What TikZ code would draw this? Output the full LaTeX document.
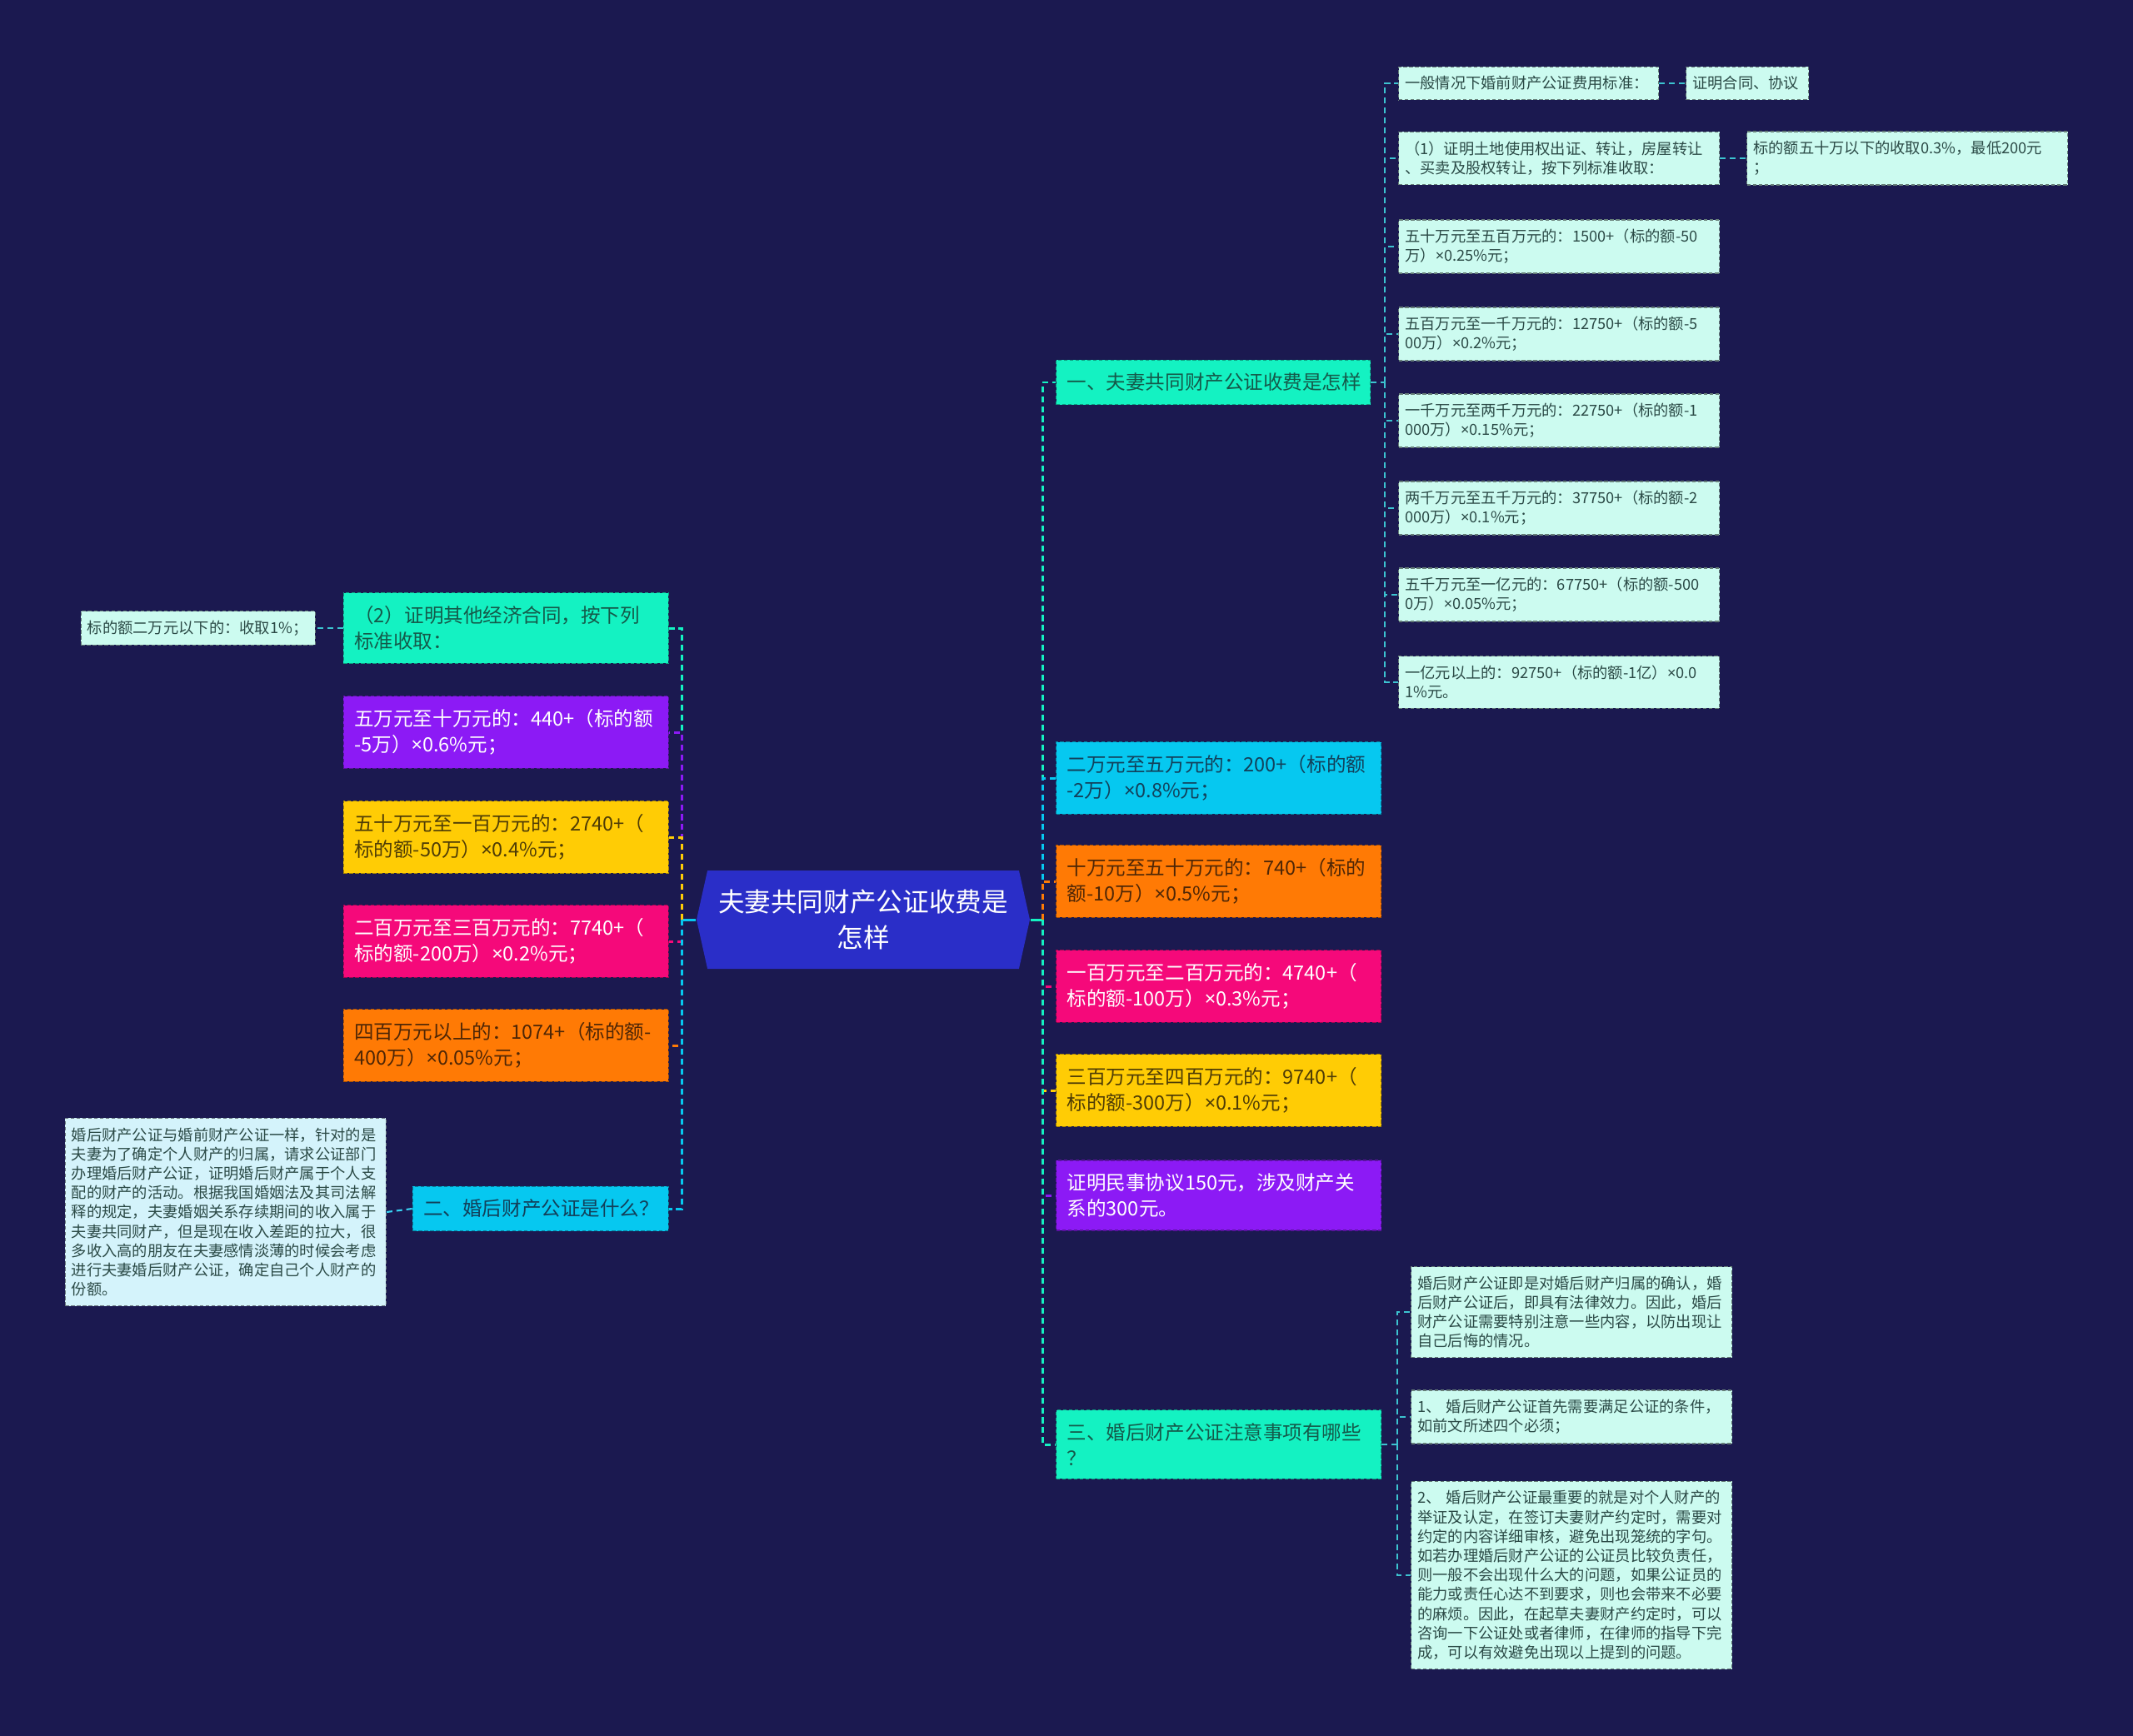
\documentclass[tikz,border=0pt]{standalone}
\usepackage{fontspec}
\setmainfont{Noto Sans CJK SC}
\newfontfamily\latinfont{Noto Sans}
\newcommand\mul{{\latinfont ×}}
\usetikzlibrary{shapes.symbols}
\definecolor{bgnavy}{HTML}{1B1950}
\definecolor{hubblue}{HTML}{2A2EC8}
\definecolor{tealbox}{HTML}{14F2C2}
\definecolor{skybox}{HTML}{06C8F0}
\definecolor{purplebox}{HTML}{8C1AF5}
\definecolor{goldbox}{HTML}{FFCC05}
\definecolor{rosebox}{HTML}{F5097A}
\definecolor{orangebox}{HTML}{FF7A05}
\definecolor{tealtext}{HTML}{145A4A}
\definecolor{skytext}{HTML}{12405A}
\definecolor{goldtext}{HTML}{4E3C06}
\definecolor{orangetext}{HTML}{4E2606}
\definecolor{leafmint}{HTML}{CCFBF0}
\definecolor{leafsky}{HTML}{D4F3FB}
\definecolor{leaftext}{HTML}{2B4A46}
\definecolor{twigteal}{HTML}{3CC3D0}

\begin{document}
\begin{tikzpicture}[
  hub/.style={signal, signal to=west and east, signal pointer angle=155,
    fill=hubblue, text=white, minimum width=4cm, minimum height=1.18cm,
    inner sep=0pt, align=center, font=\fontsize{9}{12}\selectfont},
  topic/.style 2 args={fill=#1, draw=#1!65!black, text=#2, line width=0.4pt,
    dash pattern=on 1.2pt off 0.8pt, text width=3.64cm, inner xsep=0.13cm,
    inner ysep=4.5pt, align=left, font=\fontsize{6.7}{8.8}\selectfont},
  leaf/.style={fill=#1, draw=#1!50!black, text=leaftext, line width=0.4pt,
    dash pattern=on 1.2pt off 0.8pt, text width=3.7cm, inner xsep=0.075cm,
    inner ysep=3.2pt, align=left, font=\fontsize{5.2}{6.6}\selectfont},
  link/.style={line width=0.85pt, dash pattern=on 2pt off 1.4pt},
  twig/.style={twigteal, line width=0.6pt, dash pattern=on 2pt off 1.4pt}
]

% Background
\fill[bgnavy] (0,0) rectangle (25.6,-20.84);
\useasboundingbox (0,0) rectangle (25.6,-20.84);

% Centre
\node[hub] (ctr) at (10.36,-11.04) {夫妻共同财产公证收费是\\怎样};
\coordinate (lhub) at (8.18,-11.04);
\coordinate (rhub) at (12.51,-11.04);

% Right branches
\node[topic={tealbox}{tealtext}, text width=3.51cm, anchor=west] (r1) at (12.67,-4.59) {一、夫妻共同财产公证收费是怎样};
\node[topic={skybox}{skytext}, anchor=west] (r2) at (12.67,-9.34) {二万元至五万元的：200+（标的额\\-2万）\mul0.8\%元；};
\node[topic={orangebox}{orangetext}, anchor=west] (r3) at (12.67,-10.58) {十万元至五十万元的：740+（标的\\额-10万）\mul0.5\%元；};
\node[topic={rosebox}{white}, anchor=west] (r4) at (12.67,-11.84) {一百万元至二百万元的：4740+（\\标的额-100万）\mul0.3\%元；};
\node[topic={goldbox}{goldtext}, anchor=west] (r5) at (12.67,-13.09) {三百万元至四百万元的：9740+（\\标的额-300万）\mul0.1\%元；};
\node[topic={purplebox}{white}, anchor=west] (r6) at (12.67,-14.35) {证明民事协议150元，涉及财产关\\系的300元。};
\node[topic={tealbox}{tealtext}, anchor=west] (r7) at (12.67,-17.34) {三、婚后财产公证注意事项有哪些\\？};

% Left branches
\node[topic={tealbox}{tealtext}, anchor=east] (t1) at (8.03,-7.54) {（2）证明其他经济合同，按下列\\标准收取：};
\node[topic={purplebox}{white}, anchor=east] (t2) at (8.03,-8.79) {五万元至十万元的：440+（标的额\\-5万）\mul0.6\%元；};
\node[topic={goldbox}{goldtext}, anchor=east] (t3) at (8.03,-10.05) {五十万元至一百万元的：2740+（\\标的额-50万）\mul0.4\%元；};
\node[topic={rosebox}{white}, anchor=east] (t4) at (8.03,-11.30) {二百万元至三百万元的：7740+（\\标的额-200万）\mul0.2\%元；};
\node[topic={orangebox}{orangetext}, anchor=east] (t5) at (8.03,-12.55) {四百万元以上的：1074+（标的额-\\400万）\mul0.05\%元；};
\node[topic={skybox}{skytext}, text width=2.81cm, anchor=east] (t6) at (8.03,-14.51) {二、婚后财产公证是什么？};

% Leaves under r1
\coordinate (yhub) at (16.62,-4.59);
\node[leaf=leafmint, text width=2.97cm, anchor=west] (l1) at (16.78,-1.00) {一般情况下婚前财产公证费用标准：};
\node[leaf=leafmint, text width=1.32cm, anchor=west] (l1b) at (20.23,-1.00) {证明合同、协议};
\node[leaf=leafmint, anchor=west] (l2) at (16.78,-1.90) {（1）证明土地使用权出证、转让，房屋转让\\、买卖及股权转让，按下列标准收取：};
\node[leaf=leafmint, anchor=west] (l2b) at (20.96,-1.90) {标的额五十万以下的收取0.3\%，最低200元\\；};
\node[leaf=leafmint, anchor=west] (l3) at (16.78,-2.96) {五十万元至五百万元的：1500+（标的额-50\\万）\mul0.25\%元；};
\node[leaf=leafmint, anchor=west] (l4) at (16.78,-4.01) {五百万元至一千万元的：12750+（标的额-5\\00万）\mul0.2\%元；};
\node[leaf=leafmint, anchor=west] (l5) at (16.78,-5.05) {一千万元至两千万元的：22750+（标的额-1\\000万）\mul0.15\%元；};
\node[leaf=leafmint, anchor=west] (l6) at (16.78,-6.10) {两千万元至五千万元的：37750+（标的额-2\\000万）\mul0.1\%元；};
\node[leaf=leafmint, anchor=west] (l7) at (16.78,-7.14) {五千万元至一亿元的：67750+（标的额-500\\0万）\mul0.05\%元；};
\node[leaf=leafmint, anchor=west] (l8) at (16.78,-8.19) {一亿元以上的：92750+（标的额-1亿）\mul0.0\\1\%元。};

% Leaves under r7
\coordinate (shub) at (16.77,-17.34);
\node[leaf=leafmint, anchor=west] (m1) at (16.93,-15.75) {婚后财产公证即是对婚后财产归属的确认，婚\\后财产公证后，即具有法律效力。因此，婚后\\财产公证需要特别注意一些内容，以防出现让\\自己后悔的情况。};
\node[leaf=leafmint, anchor=west] (m2) at (16.93,-17.01) {1、 婚后财产公证首先需要满足公证的条件，\\如前文所述四个必须；};
\node[leaf=leafmint, anchor=west] (m3) at (16.93,-18.91) {2、 婚后财产公证最重要的就是对个人财产的\\举证及认定，在签订夫妻财产约定时，需要对\\约定的内容详细审核，避免出现笼统的字句。\\如若办理婚后财产公证的公证员比较负责任，\\则一般不会出现什么大的问题，如果公证员的\\能力或责任心达不到要求，则也会带来不必要\\的麻烦。因此，在起草夫妻财产约定时，可以\\咨询一下公证处或者律师，在律师的指导下完\\成，可以有效避免出现以上提到的问题。};

% Leaves on the left
\node[leaf=leafmint, text width=2.66cm, anchor=east] (p1) at (3.79,-7.54) {标的额二万元以下的：收取1\%；};
\node[leaf=leafsky, anchor=east] (p2) at (4.64,-14.55) {婚后财产公证与婚前财产公证一样，针对的是\\夫妻为了确定个人财产的归属，请求公证部门\\办理婚后财产公证，证明婚后财产属于个人支\\配的财产的活动。根据我国婚姻法及其司法解\\释的规定，夫妻婚姻关系存续期间的收入属于\\夫妻共同财产，但是现在收入差距的拉大，很\\多收入高的朋友在夫妻感情淡薄的时候会考虑\\进行夫妻婚后财产公证，确定自己个人财产的\\份额。};

% Connectors from the centre
\draw[skybox, line width=0.85pt] (ctr.west) -- (lhub);
\draw[tealbox, line width=0.85pt] (ctr.east) -- (rhub);
\foreach \n/\c in {t1/tealbox, t2/purplebox, t3/goldbox, t4/rosebox, t5/orangebox, t6/skybox}
  \draw[link, \c] (lhub) |- (\n.east);
\foreach \n/\c in {r1/tealbox, r2/skybox, r3/orangebox, r4/rosebox, r5/goldbox, r6/purplebox, r7/tealbox}
  \draw[link, \c] (rhub) |- (\n.west);

% Second level connectors
\draw[twig] (r1.east) -- (yhub);
\foreach \n in {l1,l2,l3,l4,l5,l6,l7,l8}
  \draw[twig] (yhub) |- (\n.west);
\draw[twig] (l1.east) -- (l1b.west);
\draw[twig] (l2.east) -- (l2b.west);
\draw[twig] (r7.east) -- (shub);
\foreach \n in {m1,m2,m3}
  \draw[twig] (shub) |- (\n.west);
\draw[twig] (t1.west) -- (p1.east);
\draw[twig, skybox!80!white] (t6.west) -- (p2.east);

\end{tikzpicture}
\end{document}
